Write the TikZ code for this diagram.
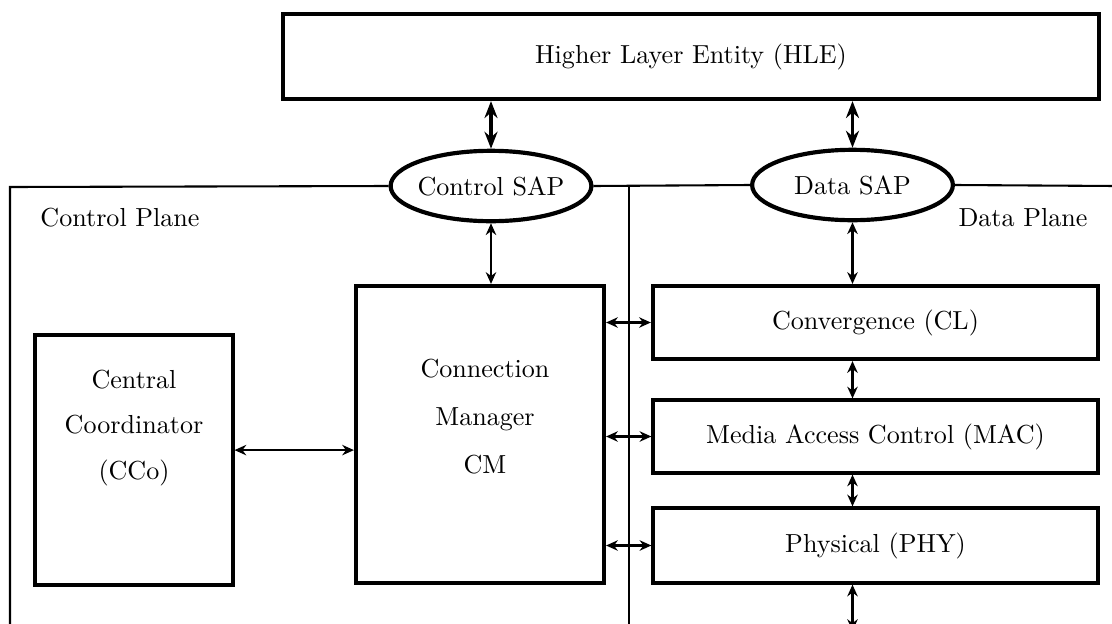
\documentclass[tikz,border=0pt]{standalone}
\usepackage{amsmath}
\usepackage{tikz}
\usetikzlibrary{arrows.meta, shapes, positioning, calc}
\tikzset{
   mybox/.style={draw, very thick, inner sep=0pt},
   mybigbox/.style={draw, ultra thick, inner sep=0pt},
   mysap/.style={draw, ultra thick, ellipse, inner sep=0pt, minimum width=77pt, minimum height=27pt},
   myarrow/.style={thick, {Stealth[length=4.5pt,width=4pt]}-{Stealth[length=4.5pt,width=4pt]}},
   mybigarrow/.style={very thick, {Stealth[length=6.5pt,width=5pt]}-{Stealth[length=6.5pt,width=5pt]}},
   myplane/.style={thick}
}
\begin{document}
\begin{tikzpicture}[x=0.3835pt, y=-0.3835pt]
      \useasboundingbox (0,0) rectangle (1112,624);
      \clip (0,0) rectangle (1112,624);
      % top layer and the two access points
      \node[mybigbox, minimum width=312.9pt, minimum height=32.6pt] (hle) at (691,56.5) {Higher Layer Entity (HLE)};
      \node[mysap, label={center:Control SAP}] (csap) at (491,186) {};
      \node[mysap, label={center:Data SAP}] (dsap) at (852.5,185) {};
      % control plane
      \node[mybigbox, minimum width=95.1pt, minimum height=113.9pt] (cm) at (480,434.5) {};
      \node[align=center] (cmtext) at (485,417) {Connection\\[6.4pt]Manager\\[6.4pt]CM};
      \node[mybox, minimum width=75.9pt, minimum height=95.9pt] (cco) at (134,460) {};
      \node[align=center] (ccotext) at (134,428) {Central\\[5.3pt]Coordinator\\[5.3pt](CCo)};
      \node (ctrl) at (120,218) {Control Plane};
      % data plane
      \node[mybigbox, minimum width=170.7pt, minimum height=28pt] (cl) at (875.5,322.5) {Convergence (CL)};
      \node[mybox, minimum width=170.7pt, minimum height=28pt] (mac) at (875.5,436.5) {Media Access Control (MAC)};
      \node[mybox, minimum width=170.7pt, minimum height=28.8pt] (phy) at (875.5,545.5) {Physical (PHY)};
      \node (data) at (1023,218) {Data Plane};
      % plane borders
      \coordinate (cpcorner) at (10,187);
      \coordinate (cpbottom) at (10,640);
      \coordinate (split) at (629,187);
      \coordinate (splitbottom) at (629,640);
      \coordinate (dpright) at (1116,186);
      \coordinate (phyout) at (852.5,631);
      \draw[myplane] (cpbottom) -- (cpcorner) -- (csap.west);
      \draw[myplane] (csap.east) -- (dsap.west);
      \draw[myplane] (split) -- (splitbottom);
      \draw[myplane] (dsap.east) -- (dpright);
      % connections
      \draw[mybigarrow] (csap.north) -- (csap.north |- hle.south);
      \draw[mybigarrow] (dsap.north) -- (dsap.north |- hle.south);
      \draw[myarrow] (csap.south) -- (csap.south |- cm.north);
      \draw[myarrow] (dsap.south) -- (dsap.south |- cl.north);
      \draw[myarrow] (cl.south -| dsap.south) -- (mac.north -| dsap.south);
      \draw[myarrow] (mac.south -| dsap.south) -- (phy.north -| dsap.south);
      \draw[myarrow] (phy.south -| dsap.south) -- (phyout);
      \draw[myarrow] ([yshift=3.8pt]cco.east) -- ([yshift=3.8pt]cco.east -| cm.west);
      \draw[myarrow] (cm.east |- cl.west) -- (cl.west);
      \draw[myarrow] (cm.east |- mac.west) -- (mac.west);
      \draw[myarrow] (cm.east |- phy.west) -- (phy.west);
\end{tikzpicture}
\end{document}
